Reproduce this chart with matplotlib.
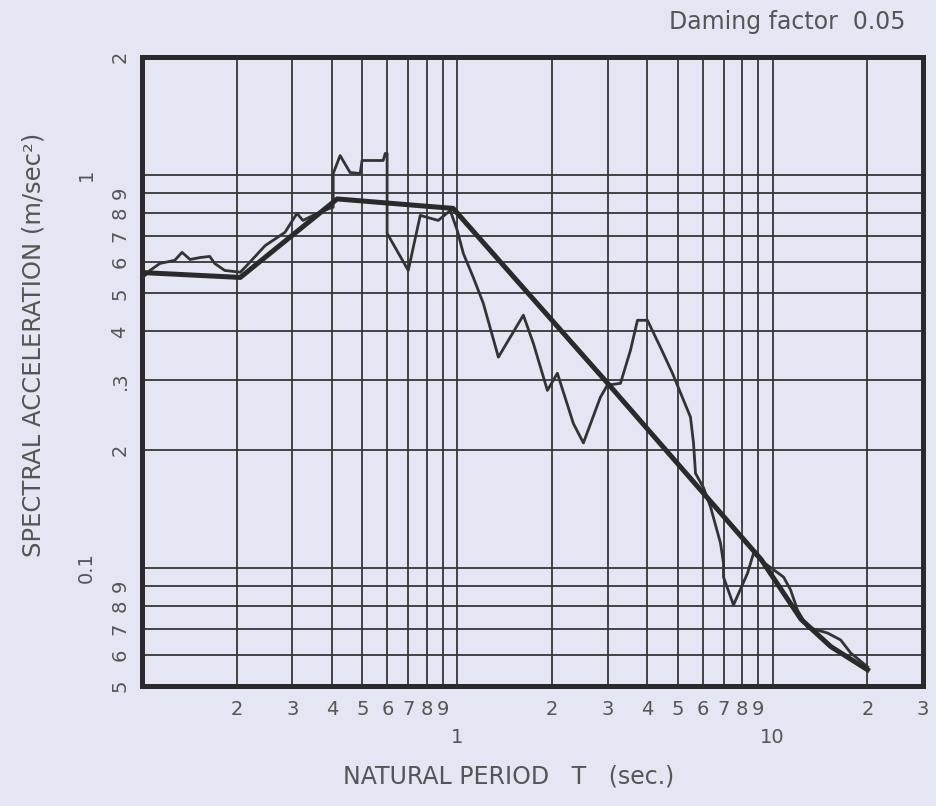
import matplotlib
matplotlib.use("Agg")
import matplotlib.pyplot as plt
from matplotlib.ticker import FixedLocator, FixedFormatter

# design spectrum (thick smooth line)
period_design = [0.1, 0.205, 0.416, 0.97, 3.0, 9.2, 12.3, 15.3, 20.0]
acc_design = [0.565, 0.549, 0.87, 0.823, 0.295, 0.105, 0.074, 0.063, 0.055]

# computed response spectrum (thin jagged line)
period_resp = [0.1, 0.106, 0.114, 0.127, 0.134, 0.142, 0.153, 0.164, 0.170, 0.183,
               0.205, 0.215, 0.246, 0.284, 0.310, 0.324, 0.359, 0.401, 0.404, 0.404,
               0.425, 0.457, 0.492, 0.499, 0.582, 0.591, 0.599, 0.599, 0.699, 0.763,
               0.870, 0.950, 1.0, 1.045, 1.124, 1.209, 1.350, 1.620, 1.743, 1.931,
               2.077, 2.335, 2.512, 2.844, 2.994, 3.293, 3.542, 3.728, 4.010, 4.411,
               4.814, 5.491, 5.613, 5.696, 6.039, 6.356, 6.836, 6.988, 6.988, 7.518,
               8.329, 8.704, 9.161, 10.84, 11.41, 12.00, 12.91, 14.95, 16.44, 17.69,
               20.03]
acc_resp = [0.546, 0.572, 0.596, 0.607, 0.636, 0.610, 0.617, 0.621, 0.596, 0.572,
            0.566, 0.589, 0.662, 0.715, 0.799, 0.767, 0.799, 0.828, 0.828, 1.010,
            1.122, 1.016, 1.010, 1.090, 1.090, 1.136, 1.136, 0.711, 0.572, 0.790,
            0.767, 0.813, 0.723, 0.632, 0.549, 0.472, 0.344, 0.440, 0.373, 0.283,
            0.313, 0.233, 0.208, 0.272, 0.292, 0.295, 0.358, 0.427, 0.427, 0.364,
            0.313, 0.242, 0.208, 0.174, 0.160, 0.143, 0.1156, 0.1028, 0.0947, 0.0804,
            0.0969, 0.109, 0.1046, 0.0947, 0.0878, 0.0780, 0.0706, 0.0682, 0.0655, 0.0607,
            0.0559]

# tick labels
x_major = [1, 10]
x_major_labels = ["1", "10"]
x_minor = [0.2, 0.3, 0.4, 0.5, 0.6, 0.7, 0.8, 0.9, 2, 3, 4, 5, 6, 7, 8, 9, 20, 30]
x_minor_labels = ["2", "3", "4", "5", "6", "7", "8", "9",
                  "2", "3", "4", "5", "6", "7", "8", "9", "2", "3"]
y_major = [0.1, 1]
y_major_labels = ["0.1", "1"]
y_minor = [0.05, 0.06, 0.07, 0.08, 0.09, 0.2, 0.3, 0.4, 0.5, 0.6, 0.7, 0.8, 0.9, 2]
y_minor_labels = ["5", "6", "7", "8", "9", "2", ".3", "4", "5", "6", "7", "8", "9", "2"]

bg = "#e4e6f4"
ink = "#2a2a2a"
txt = "#555555"

fig = plt.figure(figsize=(9.36, 8.06), dpi=100, facecolor=bg)
ax = fig.add_axes([142 / 936, 120 / 806, 781 / 936, 629 / 806])
ax.set_facecolor(bg)
ax.set_xscale("log")
ax.set_yscale("log")
ax.set_xlim(0.1, 30)
ax.set_ylim(0.05, 2)

ax.xaxis.set_major_locator(FixedLocator(x_major))
ax.xaxis.set_major_formatter(FixedFormatter(x_major_labels))
ax.xaxis.set_minor_locator(FixedLocator(x_minor))
ax.xaxis.set_minor_formatter(FixedFormatter(x_minor_labels))
ax.yaxis.set_major_locator(FixedLocator(y_major))
ax.yaxis.set_major_formatter(FixedFormatter(y_major_labels))
ax.yaxis.set_minor_locator(FixedLocator(y_minor))
ax.yaxis.set_minor_formatter(FixedFormatter(y_minor_labels))

ax.tick_params(which="both", length=0, labelsize=14, labelcolor=txt)
ax.tick_params(axis="x", which="minor", pad=10)
ax.tick_params(axis="x", which="major", pad=30)
ax.tick_params(axis="y", which="both", labelrotation=90)
ax.tick_params(axis="y", which="minor", pad=9)
ax.tick_params(axis="y", which="major", pad=33)
for lab in ax.get_yticklabels(which="both"):
    lab.set_va("center")

ax.grid(which="both", color="#363636", linewidth=1.3)
ax.set_axisbelow(True)
for sp in ax.spines.values():
    sp.set_linewidth(3.6)
    sp.set_color(ink)

ax.plot(period_resp, acc_resp, color="#333333", linewidth=2.0, zorder=3)
ax.plot(period_design, acc_design, color=ink, linewidth=3.6, zorder=4)

ax.set_xlabel("NATURAL PERIOD   T   (sec.)", fontsize=17, color=txt)
ax.xaxis.set_label_coords(0.469, -0.125)
ax.set_ylabel("SPECTRAL ACCELERATION (m/sec²)", fontsize=17.5, color=txt)
ax.yaxis.set_label_coords(-0.123, 0.542)

ax.text(0.977, 1.056, "Daming factor  0.05", transform=ax.transAxes,
        ha="right", va="center", fontsize=17, color=txt)

fig.savefig("out.png", dpi=100, facecolor=bg)
